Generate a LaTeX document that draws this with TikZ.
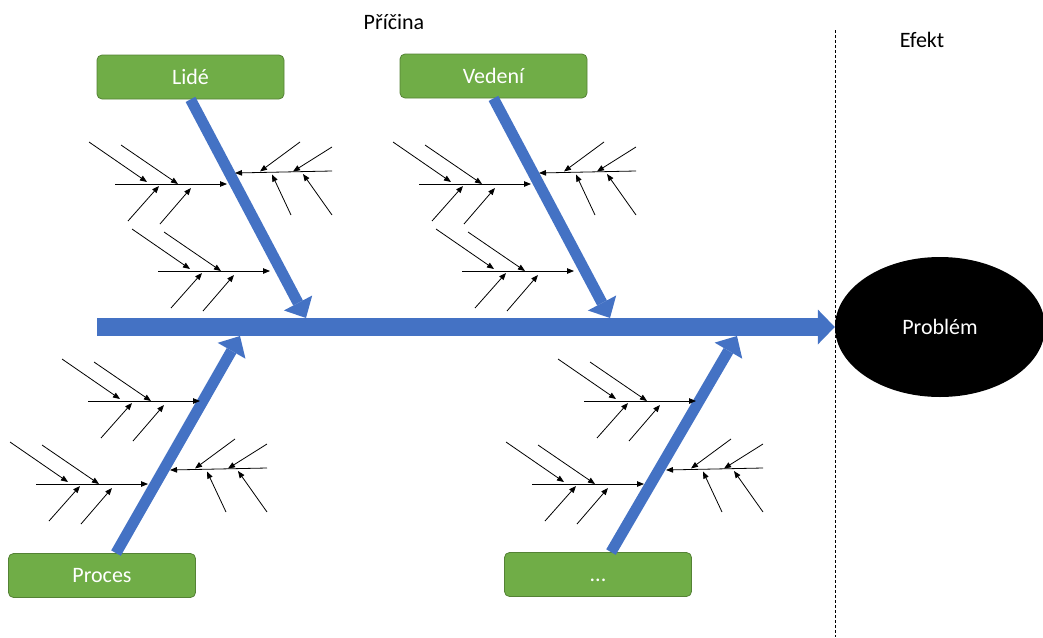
\documentclass[tikz,border=0pt]{standalone}
\usepackage{fontspec}
\setmainfont{Carlito}
\usetikzlibrary{arrows.meta,shapes.geometric}

\definecolor{causegreen}{HTML}{70AD47}
\definecolor{causeedge}{HTML}{548235}
\definecolor{boneblue}{HTML}{4472C4}

\tikzset{
  cause/.style={rectangle,rounded corners=5pt,draw=causeedge,line width=0.8pt,
    fill=causegreen,text=white,minimum width=187pt,minimum height=44pt,
    text height=14pt,text depth=0pt,font=\fontsize{22}{26}\selectfont},
  effect/.style={ellipse,fill=black,text=white,inner sep=0pt,
    minimum width=210pt,minimum height=140pt,font=\fontsize{22}{26}\selectfont},
  caption/.style={font=\fontsize{22}{26}\selectfont},
  spine/.style={boneblue,line width=18pt,
    -{Triangle[length=17pt,width=35pt,line width=0pt]}},
  bone/.style={boneblue,line width=11pt,
    -{Triangle[length=17pt,width=32pt,line width=0pt]}},
  rib/.style={black,line width=0.8pt,-{Triangle[length=7pt,width=5.5pt]}},
  divider/.style={black,line width=0.8pt,dash pattern=on 3pt off 2pt},
  % small ribs on the left of a bone, origin at the left end
  pics/ribleft/.style={code={
    \draw[rib] (0,0) -- (112,0);
    \draw[rib] (-26,-42) -- (32,-2);
    \draw[rib] (6,-39) -- (63,0);
    \draw[rib] (13,37) -- (44,2);
    \draw[rib] (45,40) -- (76,4);
  }},
  % small ribs on the right of a bone, origin at the right end
  pics/ribright/.style={code={
    \draw[rib] (0,0) -- (-97,2);
    \draw[rib] (-32,-29) -- (-72,0.5);
    \draw[rib] (0,-24) -- (-39,0.5);
    \draw[rib] (-41,44) -- (-60,3.5);
    \draw[rib] (0,44) -- (-29,3);
  }},
}

\begin{document}
\begin{tikzpicture}[x=1pt,y=-1pt]
  \useasboundingbox (0,0) rectangle (1043,637);

  \node[caption] (cause) at (394,22) {Příčina};
  \node[caption] (effectlabel) at (922,40) {Efekt};
  \draw[divider] (835,30) -- (835,637);

  % head of the fish
  \node[effect] (problem) at (940,327) {Problém};

  % categories
  \node[cause] (lide) at (190.5,77) {Lidé};
  \node[cause] (vedeni) at (493.5,76) {Vedení};
  \node[cause] (proces) at (102,575.5) {Proces};
  \node[cause] (dots) at (598,574.5) {...};

  % backbone
  \coordinate (tail) at (97,327);
  \draw[spine] (tail) -- (problem.west);

  % main bones
  \coordinate (lidetip) at (306,318);
  \coordinate (vedenitip) at (610,318);
  \coordinate (procestip) at (240,336);
  \coordinate (dotstip) at (737,336);
  \draw[bone] (lide.south) -- (lidetip);
  \draw[bone] (vedeni.south) -- (vedenitip);
  \draw[bone] ([xshift=14pt]proces.north) -- (procestip);
  \draw[bone] ([xshift=13pt]dots.north) -- (dotstip);

  % ribs of the upper bones
  \foreach \dx in {0,304} {
    \pic at (115+\dx,184) {ribleft};
    \pic at (158+\dx,271) {ribleft};
    \pic at (332+\dx,171) {ribright};
  }
  % ribs of the lower bones
  \foreach \dx in {0,496} {
    \pic at (88+\dx,401) {ribleft};
    \pic at (36+\dx,484) {ribleft};
    \pic at (267+\dx,468) {ribright};
  }
\end{tikzpicture}
\end{document}
